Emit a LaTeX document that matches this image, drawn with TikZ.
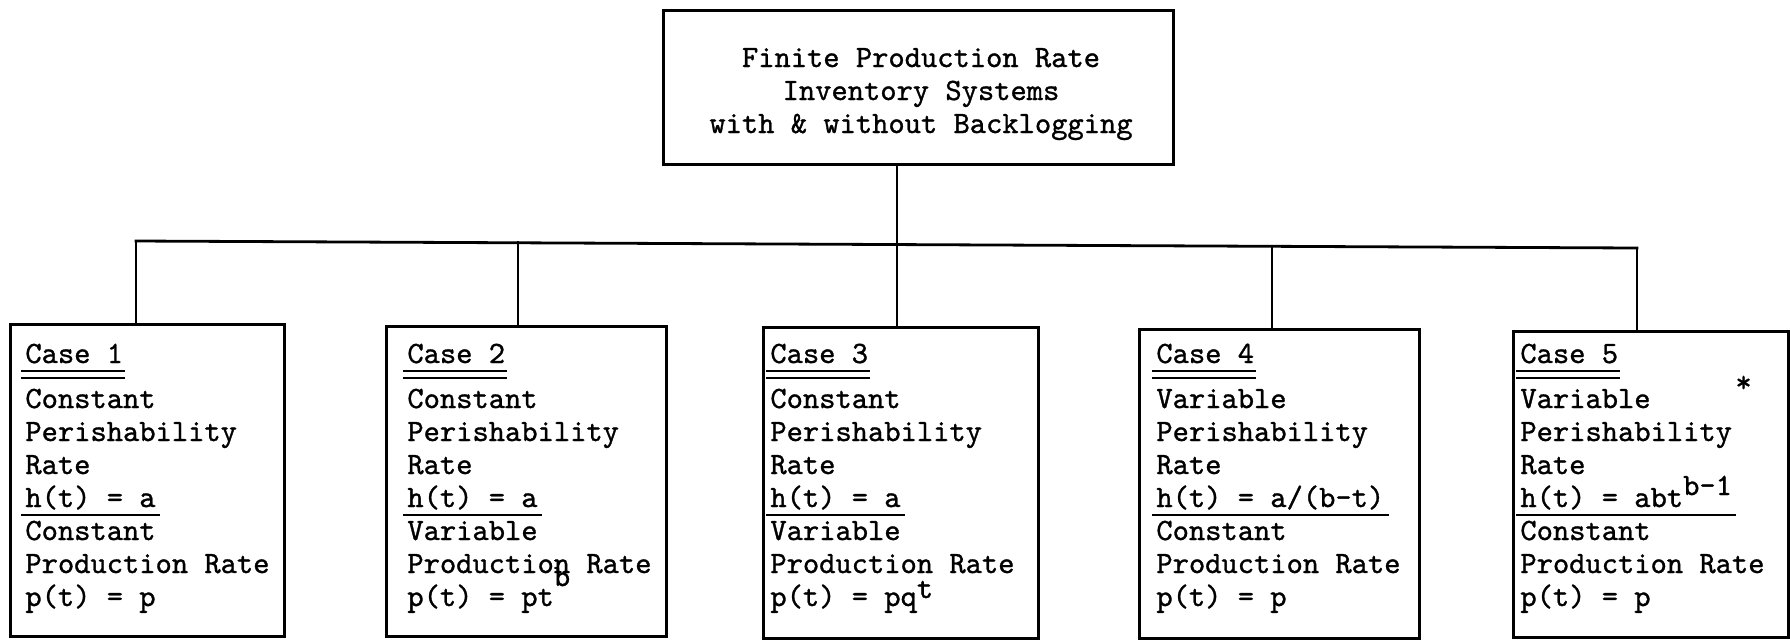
\documentclass[tikz,border=0pt]{standalone}
\usepackage{fontspec}
\setmonofont[Extension=.otf, FakeBold=1]{lmmono10-regular}
\newcommand\typer{\fontsize{15.5pt}{16.5pt}\selectfont\ttfamily}
% one column of typed lines for a case box, with its underlines
\newcommand\caselines[3]{%
  \foreach \t [count=\i] in {#3}{
    \pgfmathsetmacro\yy{{363,408,441,474,507,540,573,606}[\i-1]}
    \node[txt] (#1-\i) at (#2,\yy) {\t};
  }
  \draw[rule] ([xshift=-2pt,yshift=-4pt]#1-1.base west) -- ([xshift=1pt,yshift=-4pt]#1-1.base east);
  \draw[rule] ([xshift=-2pt,yshift=-7.5pt]#1-1.base west) -- ([xshift=1pt,yshift=-7.5pt]#1-1.base east);
  \draw[rule] ([xshift=-2pt,yshift=-4pt]#1-5.base west) -- ([xshift=2pt,yshift=-4pt]#1-5.base east);
}
\begin{document}
\begin{tikzpicture}[x=0.5pt,y=-0.5pt,
  frame/.style={draw, line width=1.5pt, rectangle, inner sep=0pt, anchor=north west},
  wire/.style={line width=1.4pt, line cap=rect},
  rule/.style={line width=0.7pt},
  txt/.style={anchor=base west, inner sep=0pt, font=\typer},
  ctxt/.style={anchor=base, inner sep=0pt, font=\typer}]
\useasboundingbox[fill=white] (0,0) rectangle (1790,639);

% top box
\node[frame, minimum width=255pt, minimum height=77pt] (root) at (662,9) {};
\node[ctxt] (r1) at (921,67) {Finite Production Rate};
\node[ctxt] (r2) at (921,100) {Inventory Systems};
\node[ctxt] (r3) at (921,133) {with \& without Backlogging};

% case boxes
\node[frame, minimum width=137pt, minimum height=156pt] (c1) at (9,323) {};
\node[frame, minimum width=140pt, minimum height=155pt] (c2) at (385,325) {};
\node[frame, minimum width=137.5pt, minimum height=155.5pt] (c3) at (762,326) {};
\node[frame, minimum width=140pt, minimum height=154.5pt] (c4) at (1138,328) {};
\node[frame, minimum width=137.5pt, minimum height=153pt] (c5) at (1512,330) {};

% branching connectors
\coordinate (j1) at (136,241);
\coordinate (j2) at (518,242.8);
\coordinate (j3) at (897,244.6);
\coordinate (j4) at (1272,246.3);
\coordinate (j5) at (1637,248);
\draw[wire] (j1) -- (j5);
\draw[wire] (root.south -| j3) -- (j3);
\foreach \k in {1,...,5}{
  \draw[wire] (j\k) -- (j\k |- c\k.north);
}

% case texts
\caselines{t1}{25}{Case 1,Constant,Perishability,Rate,h(t) = a,Constant,Production Rate,p(t) = p}
\caselines{t2}{407}{Case 2,Constant,Perishability,Rate,h(t) = a,Variable,Production Rate,p(t) = pt\raisebox{10pt}{b}}
\caselines{t3}{770}{Case 3,Constant,Perishability,Rate,h(t) = a,Variable,Production Rate,p(t) = pq\raisebox{4pt}{t}}
\caselines{t4}{1156}{Case 4,Variable,Perishability,Rate,h(t) = a/(b-t),Constant,Production Rate,p(t) = p}
\caselines{t5}{1520}{Case 5,Variable,Perishability,Rate,h(t) = abt\raisebox{6pt}{b-1},Constant,Production Rate,p(t) = p}
\node[txt] (star) at (1735,392) {*};
\end{tikzpicture}
\end{document}
